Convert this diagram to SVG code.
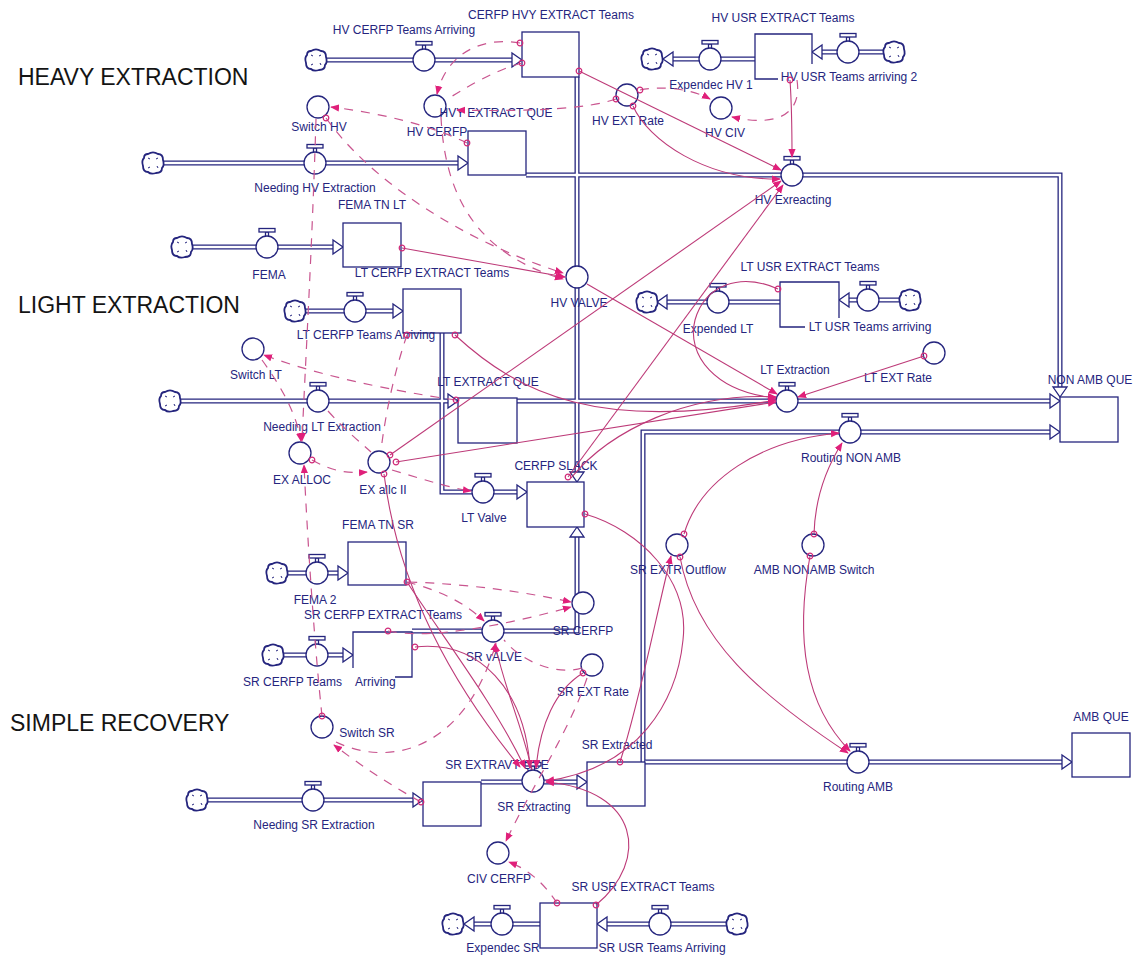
<svg xmlns="http://www.w3.org/2000/svg" width="1137" height="958" viewBox="0 0 1137 958">
<style>
text{font-family:"Liberation Sans",Arial,sans-serif}
.lb{font-size:12px;fill:#25257e;text-anchor:middle}
.ttl{font-size:23px;fill:#141414}
.st{fill:#fff;stroke:#25257e;stroke-width:1.3}
.sp{fill:none;stroke:#25257e;stroke-width:1.3}
.nd{fill:#fff;stroke:#25257e;stroke-width:1.3}
.cl{fill:#fff;stroke:#25257e;stroke-width:1.8}
.cm{fill:none;stroke:#25257e;stroke-width:1}
.po{fill:none;stroke:#25257e;stroke-width:5}
.pi{fill:none;stroke:#fff;stroke-width:2.4}
.pa{fill:#fff;stroke:#25257e;stroke-width:1.3}
.lk{fill:none;stroke:#bd3a78;stroke-width:1.1}
.dl{fill:none;stroke:#c9558f;stroke-width:1.2;stroke-dasharray:9 8}
</style>
<defs>
<marker id="ah" viewBox="0 0 10 10" refX="9" refY="5" markerWidth="9" markerHeight="9" markerUnits="userSpaceOnUse" orient="auto"><path d="M0,1 L10,5 L0,9 Z" fill="#e0207a"/></marker>
<marker id="tc" viewBox="0 0 8 8" refX="4" refY="4" markerWidth="8" markerHeight="8" markerUnits="userSpaceOnUse"><circle cx="4" cy="4" r="2.8" fill="none" stroke="#d02a78" stroke-width="1.2"/></marker>
<g id="cld"><path class="cl" d="M-5,-9 C-2,-11 2,-11 5,-9 C9,-9 10,-6 10,-3 C11,0 11,3 9,5 C9,9 6,10 3,10 C0,11 -3,11 -5,9 C-9,9 -10,6 -10,3 C-11,0 -11,-3 -9,-5 C-9,-8 -7,-9 -5,-9 Z"/><path class="cm" d="M-5,-5 l2,1 M5,-5 l-2,1 M5,5 l-1,-2 M-5,5 l2,-1"/></g>
<g id="vlv"><rect x="-1.5" y="-15" width="3" height="5" class="nd"/><rect x="-8" y="-18.5" width="16" height="3.5" class="nd"/><circle r="11" class="nd"/></g>
<path id="pa" class="pa" d="M0,0 L-10,-7 L-10,7 Z"/>
<path id="p1" d="M326,60 H512"/>
<path id="p2" d="M163,163 H458"/>
<path id="p3" d="M192,247 H333"/>
<path id="p4" d="M305,311 H393"/>
<path id="p5" d="M180,401 H448"/>
<path id="p6" d="M517,401 H1050"/>
<path id="p7" d="M577,77 V472"/>
<path id="p8" d="M442,333 V492 H517"/>
<path id="p9" d="M412,631 H577 V537"/>
<path id="p10" d="M283,655 H343"/>
<path id="p11" d="M287,573 H338"/>
<path id="p12" d="M207,800 H413"/>
<path id="p13" d="M481,782 H577"/>
<path id="p14" d="M643,762 V432 H1050"/>
<path id="p15" d="M645,762 H1062"/>
<path id="p16" d="M526,175 H1060 V387"/>
<path id="p17" d="M755,59 H673"/>
<path id="p18" d="M884,52 H822"/>
<path id="p19" d="M780,302 H667"/>
<path id="p20" d="M900,300 H849"/>
<path id="p21" d="M540,924 H474"/>
<path id="p22" d="M727,924 H607"/>
</defs>
<rect width="1137" height="958" fill="#fff"/>
<g id="titles">
<text class="ttl" x="18" y="85">HEAVY EXTRACTION</text>
<text class="ttl" x="18" y="313">LIGHT EXTRACTION</text>
<text class="ttl" x="10" y="731">SIMPLE RECOVERY</text>
</g>
<g id="connectors">
<g id="pipes">
<use href="#p1" class="po"/><use href="#p2" class="po"/><use href="#p3" class="po"/><use href="#p4" class="po"/><use href="#p5" class="po"/><use href="#p6" class="po"/><use href="#p7" class="po"/><use href="#p8" class="po"/><use href="#p9" class="po"/><use href="#p10" class="po"/><use href="#p11" class="po"/><use href="#p12" class="po"/><use href="#p13" class="po"/><use href="#p14" class="po"/><use href="#p15" class="po"/><use href="#p16" class="po"/><use href="#p17" class="po"/><use href="#p18" class="po"/><use href="#p19" class="po"/><use href="#p20" class="po"/><use href="#p21" class="po"/><use href="#p22" class="po"/>
<use href="#p1" class="pi"/><use href="#p2" class="pi"/><use href="#p3" class="pi"/><use href="#p4" class="pi"/><use href="#p5" class="pi"/><use href="#p6" class="pi"/><use href="#p7" class="pi"/><use href="#p8" class="pi"/><use href="#p9" class="pi"/><use href="#p10" class="pi"/><use href="#p11" class="pi"/><use href="#p12" class="pi"/><use href="#p13" class="pi"/><use href="#p14" class="pi"/><use href="#p15" class="pi"/><use href="#p16" class="pi"/><use href="#p17" class="pi"/><use href="#p18" class="pi"/><use href="#p19" class="pi"/><use href="#p20" class="pi"/><use href="#p21" class="pi"/><use href="#p22" class="pi"/>
<use href="#pa" transform="translate(522,60)"/>
<use href="#pa" transform="translate(468,163)"/>
<use href="#pa" transform="translate(343,247)"/>
<use href="#pa" transform="translate(403,311)"/>
<use href="#pa" transform="translate(458,401)"/>
<use href="#pa" transform="translate(1060,401)"/>
<use href="#pa" transform="translate(577,482) rotate(90)"/>
<use href="#pa" transform="translate(527,492)"/>
<use href="#pa" transform="translate(577,527) rotate(-90)"/>
<use href="#pa" transform="translate(353,655)"/>
<use href="#pa" transform="translate(348,573)"/>
<use href="#pa" transform="translate(423,800)"/>
<use href="#pa" transform="translate(587,782)"/>
<use href="#pa" transform="translate(1060,432)"/>
<use href="#pa" transform="translate(1072,762)"/>
<use href="#pa" transform="translate(1060,397) rotate(90)"/>
<use href="#pa" transform="translate(663,59) rotate(180)"/>
<use href="#pa" transform="translate(812,52) rotate(180)"/>
<use href="#pa" transform="translate(657,302) rotate(180)"/>
<use href="#pa" transform="translate(839,300) rotate(180)"/>
<use href="#pa" transform="translate(464,924) rotate(180)"/>
<use href="#pa" transform="translate(597,924) rotate(180)"/>
</g>
</g>
<g id="clouds">
<use href="#cld" x="316" y="60"/><use href="#cld" x="153" y="163"/><use href="#cld" x="182" y="247"/><use href="#cld" x="295" y="311"/><use href="#cld" x="170" y="401"/><use href="#cld" x="273" y="655"/><use href="#cld" x="277" y="573"/><use href="#cld" x="197" y="800"/><use href="#cld" x="652" y="59"/><use href="#cld" x="894" y="52"/><use href="#cld" x="647" y="302"/><use href="#cld" x="910" y="300"/><use href="#cld" x="453" y="924"/><use href="#cld" x="737" y="924"/>
</g>
<g id="cerfp-hvy-extract-teams"><rect class="st" x="522" y="32" width="57" height="45"/><text class="lb" x="551" y="19">CERFP HVY EXTRACT Teams</text></g>
<g id="hv-usr-extract-teams"><path class="st" d="M778,79 H755 V34 H812 V64"/><text class="lb" x="783" y="22">HV USR EXTRACT Teams</text></g>
<g id="hv-cerfp"><rect class="st" x="468" y="131" width="58" height="44"/><text class="lb" x="437" y="136">HV CERFP</text></g>
<g id="fema-tn-lt"><rect class="st" x="343" y="223" width="58" height="44"/><text class="lb" x="372" y="209">FEMA TN LT</text></g>
<g id="lt-cerfp-extract-teams"><rect class="st" x="403" y="289" width="58" height="44"/><text class="lb" x="432" y="277">LT CERFP EXTRACT Teams</text></g>
<g id="lt-usr-extract-teams"><path class="st" d="M805,327 H780 V282 H839 V318"/><text class="lb" x="810" y="271">LT USR EXTRACT Teams</text></g>
<g id="lt-extract-que"><rect class="st" x="458" y="398" width="59" height="45"/><text class="lb" x="488" y="386">LT EXTRACT QUE</text></g>
<g id="cerfp-slack"><rect class="st" x="527" y="482" width="57" height="45"/><text class="lb" x="556" y="470">CERFP SLACK</text></g>
<g id="non-amb-que"><rect class="st" x="1060" y="397" width="58" height="45"/><text class="lb" x="1090" y="384">NON AMB QUE</text></g>
<g id="fema-tn-sr"><rect class="st" x="348" y="542" width="58" height="43"/><text class="lb" x="378" y="529">FEMA TN SR</text></g>
<g id="sr-cerfp-extract-teams"><path class="st" d="M395,677 H412 V632 H353 V668"/><text class="lb" x="383" y="619">SR CERFP EXTRACT Teams</text></g>
<g id="sr-extravt-que"><rect class="st" x="423" y="782" width="58" height="44"/><text class="lb" x="497" y="769">SR EXTRAVT QUE</text></g>
<g id="sr-extracted"><rect class="st" x="587" y="762" width="58" height="44"/><text class="lb" x="617" y="749">SR Extracted</text></g>
<g id="amb-que"><rect class="st" x="1072" y="733" width="58" height="44"/><text class="lb" x="1101" y="721">AMB QUE</text></g>
<g id="sr-usr-extract-teams"><rect class="st" x="540" y="903" width="57" height="45"/><text class="lb" x="643" y="891">SR USR EXTRACT Teams</text></g>
<g id="switch-hv"><circle class="nd" cx="318" cy="107" r="11"/><text class="lb" x="319" y="131">Switch HV</text></g>
<g id="hvy-extract-que"><circle class="nd" cx="435" cy="106" r="11"/><text class="lb" x="496" y="117">HVY EXTRACT QUE</text></g>
<g id="hv-ext-rate"><circle class="nd" cx="627" cy="95" r="11"/><text class="lb" x="628" y="125">HV EXT Rate</text></g>
<g id="hv-civ"><circle class="nd" cx="721" cy="108" r="11"/><text class="lb" x="725" y="137">HV CIV</text></g>
<g id="hv-valve"><circle class="nd" cx="577" cy="277" r="11"/><text class="lb" x="579" y="307">HV VALVE</text></g>
<g id="switch-lt"><circle class="nd" cx="253" cy="349" r="11"/><text class="lb" x="256" y="379">Switch LT</text></g>
<g id="lt-ext-rate"><circle class="nd" cx="934" cy="353" r="11"/><text class="lb" x="898" y="382">LT EXT Rate</text></g>
<g id="ex-alloc"><circle class="nd" cx="300" cy="453" r="11"/><text class="lb" x="302" y="484">EX ALLOC</text></g>
<g id="ex-allc-ii"><circle class="nd" cx="379" cy="462" r="11"/><text class="lb" x="383" y="494">EX allc II</text></g>
<g id="sr-extr-outflow"><circle class="nd" cx="677" cy="545" r="11"/><text class="lb" x="678" y="574">SR EXTR Outflow</text></g>
<g id="amb-nonamb-switch"><circle class="nd" cx="813" cy="545" r="11"/><text class="lb" x="814" y="574">AMB NONAMB Switch</text></g>
<g id="sr-cerfp"><circle class="nd" cx="583" cy="603" r="11"/><text class="lb" x="583" y="635">SR CERFP</text></g>
<g id="sr-ext-rate"><circle class="nd" cx="592" cy="665" r="11"/><text class="lb" x="593" y="696">SR EXT Rate</text></g>
<g id="switch-sr"><circle class="nd" cx="322" cy="727" r="11"/><text class="lb" x="367" y="737">Switch SR</text></g>
<g id="civ-cerfp"><circle class="nd" cx="498" cy="853" r="11"/><text class="lb" x="499" y="883">CIV CERFP</text></g>
<g id="hv-cerfp-teams-arriving"><use href="#vlv" x="424" y="60"/><text class="lb" x="404" y="34">HV CERFP Teams Arriving</text></g>
<g id="needing-hv-extraction"><use href="#vlv" x="315" y="163"/><text class="lb" x="315" y="192">Needing HV Extraction</text></g>
<g id="fema"><use href="#vlv" x="267" y="247"/><text class="lb" x="269" y="279">FEMA</text></g>
<g id="expendec-hv-1"><use href="#vlv" x="710" y="59"/><text class="lb" x="711" y="89">Expendec HV 1</text></g>
<g id="hv-usr-teams-arriving-2"><use href="#vlv" x="848" y="52"/><text class="lb" x="849" y="81">HV USR Teams arriving 2</text></g>
<g id="hv-exreacting"><use href="#vlv" x="792" y="175"/><text class="lb" x="793" y="204">HV Exreacting</text></g>
<g id="lt-cerfp-teams-arriving"><use href="#vlv" x="355" y="311"/><text class="lb" x="366" y="339">LT CERFP Teams Arriving</text></g>
<g id="expended-lt"><use href="#vlv" x="718" y="302"/><text class="lb" x="718" y="333">Expended LT</text></g>
<g id="lt-usr-teams-arriving"><use href="#vlv" x="868" y="300"/><text class="lb" x="870" y="331">LT USR Teams arriving</text></g>
<g id="needing-lt-extraction"><use href="#vlv" x="318" y="401"/><text class="lb" x="322" y="431">Needing LT Extraction</text></g>
<g id="lt-extraction"><use href="#vlv" x="787" y="401"/><text class="lb" x="795" y="374">LT Extraction</text></g>
<g id="routing-non-amb"><use href="#vlv" x="850" y="432"/><text class="lb" x="851" y="462">Routing NON AMB</text></g>
<g id="lt-valve"><use href="#vlv" x="483" y="492"/><text class="lb" x="484" y="522">LT Valve</text></g>
<g id="fema-2"><use href="#vlv" x="317" y="573"/><text class="lb" x="315" y="604">FEMA 2</text></g>
<g id="sr-cerfp-teams-arriving"><use href="#vlv" x="317" y="655"/><text class="lb" x="243" y="686" style="text-anchor:start">SR CERFP Teams<tspan x="355">Arriving</tspan></text></g>
<g id="sr-valve"><use href="#vlv" x="493" y="631"/><text class="lb" x="494" y="661">SR vALVE</text></g>
<g id="needing-sr-extraction"><use href="#vlv" x="313" y="800"/><text class="lb" x="314" y="829">Needing SR Extraction</text></g>
<g id="sr-extracting"><use href="#vlv" x="533" y="781"/><text class="lb" x="534" y="811">SR Extracting</text></g>
<g id="routing-amb"><use href="#vlv" x="858" y="762"/><text class="lb" x="858" y="791">Routing AMB</text></g>
<g id="expendec-sr"><use href="#vlv" x="502" y="924"/><text class="lb" x="503" y="952">Expendec SR</text></g>
<g id="sr-usr-teams-arriving"><use href="#vlv" x="660" y="924"/><text class="lb" x="662" y="952">SR USR Teams Arriving</text></g>
<g id="links">
<path class="lk" marker-start="url(#tc)" marker-end="url(#ah)" d="M579,71 L781,170"/>
<path class="lk" marker-start="url(#tc)" marker-end="url(#ah)" d="M633,106 C648,140 705,180 780,179"/>
<path class="lk" marker-start="url(#tc)" marker-end="url(#ah)" d="M790,80 C792,110 792,130 792,157"/>
<path class="lk" marker-start="url(#tc)" marker-end="url(#ah)" d="M390,455 L781,181"/>
<path class="lk" marker-start="url(#tc)" marker-end="url(#ah)" d="M568,477 L783,185"/>
<path class="lk" marker-start="url(#tc)" marker-end="url(#ah)" d="M402,248 L565,277"/>
<path class="lk" marker-end="url(#ah)" d="M587,284 L777,394"/>
<path class="lk" marker-start="url(#tc)" marker-end="url(#ah)" d="M455,335 C520,395 600,432 776,400"/>
<path class="lk" marker-start="url(#tc)" marker-end="url(#ah)" d="M396,462 L776,402"/>
<path class="lk" marker-end="url(#ah)" d="M571,478 C610,430 690,392 776,397"/>
<path class="lk" marker-start="url(#tc)" marker-end="url(#ah)" d="M778,289 C740,272 705,285 695,320 C686,355 715,392 776,398"/>
<path class="lk" marker-start="url(#tc)" marker-end="url(#ah)" d="M924,356 L798,397"/>
<path class="lk" marker-start="url(#tc)" marker-end="url(#ah)" d="M384,474 C396,570 440,670 520,767"/>
<path class="lk" marker-start="url(#tc)" marker-end="url(#ah)" d="M407,582 C445,640 495,705 525,768"/>
<path class="lk" marker-start="url(#tc)" marker-end="url(#ah)" d="M415,647 C480,640 525,690 530,768"/>
<path class="lk" marker-end="url(#ah)" d="M532,770 C520,720 505,690 495,644"/>
<path class="lk" marker-start="url(#tc)" marker-end="url(#ah)" d="M583,673 C555,690 540,725 536,768"/>
<path class="lk" marker-start="url(#tc)" marker-end="url(#ah)" d="M596,905 C650,860 640,790 546,782"/>
<path class="lk" marker-start="url(#tc)" marker-end="url(#ah)" d="M620,762 C640,700 655,620 671,556"/>
<path class="lk" marker-start="url(#tc)" marker-end="url(#ah)" d="M680,557 C695,640 760,695 848,753"/>
<path class="lk" marker-start="url(#tc)" marker-end="url(#ah)" d="M684,534 C700,480 760,440 839,433"/>
<path class="lk" marker-start="url(#tc)" marker-end="url(#ah)" d="M814,534 C815,500 825,470 842,443"/>
<path class="lk" marker-start="url(#tc)" marker-end="url(#ah)" d="M810,556 C795,640 805,705 850,751"/>
<path class="lk" marker-start="url(#tc)" marker-end="url(#ah)" d="M585,514 C640,530 690,580 683,640 C677,700 640,768 546,781"/>
<path class="dl" marker-start="url(#tc)" marker-end="url(#ah)" d="M467,143 C430,125 380,113 331,107"/>
<path class="dl" marker-start="url(#tc)" marker-end="url(#ah)" d="M326,118 C370,180 460,240 563,273"/>
<path class="dl" marker-end="url(#ah)" d="M316,119 C312,250 306,350 302,441"/>
<path class="dl" marker-end="url(#ah)" d="M441,117 C445,200 480,255 563,279"/>
<path class="dl" marker-start="url(#tc)" marker-end="url(#ah)" d="M520,43 C480,36 446,55 437,94"/>
<path class="dl" marker-start="url(#tc)" d="M522,63 C495,70 465,88 446,100"/>
<path class="dl" marker-start="url(#tc)" marker-end="url(#ah)" d="M616,99 C590,108 540,112 457,110"/>
<path class="dl" marker-start="url(#tc)" marker-end="url(#ah)" d="M640,90 C660,86 690,88 710,99"/>
<path class="dl" marker-end="url(#ah)" d="M797,80 C802,112 780,128 732,117"/>
<path class="dl" marker-start="url(#tc)" marker-end="url(#ah)" d="M456,400 C420,395 330,380 264,355"/>
<path class="dl" marker-end="url(#ah)" d="M262,360 C280,385 296,412 301,441"/>
<path class="dl" marker-start="url(#tc)" marker-end="url(#ah)" d="M312,460 C330,470 345,474 367,472"/>
<path class="dl" d="M328,411 C345,430 360,442 371,452"/>
<path class="dl" marker-end="url(#ah)" d="M392,470 C420,478 445,487 471,491"/>
<path class="dl" marker-start="url(#tc)" d="M407,335 C395,370 386,410 381,450"/>
<path class="dl" marker-start="url(#tc)" marker-end="url(#ah)" d="M322,716 C315,650 308,550 304,465"/>
<path class="dl" marker-end="url(#ah)" d="M336,742 C390,768 465,750 496,643"/>
<path class="dl" marker-start="url(#tc)" marker-end="url(#ah)" d="M421,802 C390,785 360,765 334,745"/>
<path class="dl" marker-end="url(#ah)" d="M407,582 C430,588 460,598 484,621"/>
<path class="dl" marker-end="url(#ah)" d="M408,582 C470,584 525,592 571,602"/>
<path class="dl" marker-start="url(#tc)" marker-end="url(#ah)" d="M388,631 C430,640 505,625 571,607"/>
<path class="dl" d="M582,668 C560,675 525,665 504,640"/>
<path class="dl" marker-end="url(#ah)" d="M587,678 C570,730 530,790 506,841"/>
<path class="dl" marker-start="url(#tc)" marker-end="url(#ah)" d="M557,903 C545,885 530,870 509,862"/>
</g>
</svg>
